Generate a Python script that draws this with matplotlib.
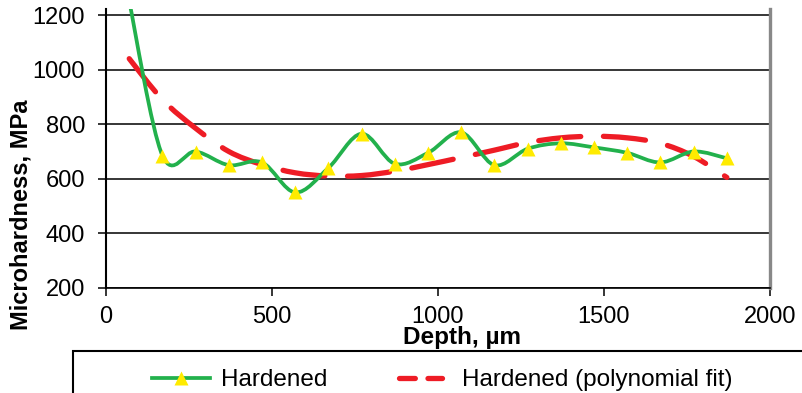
import numpy as np
import matplotlib
matplotlib.use('Agg')
import matplotlib.pyplot as plt
from matplotlib.path import Path
from matplotlib.patches import PathPatch, Rectangle
from matplotlib.lines import Line2D

plt.rcParams['font.family'] = 'Liberation Sans'

# measured microhardness (first point is above the visible range)
depth = [70, 170, 270, 370, 470, 570, 670, 770, 870, 970, 1070,
         1170, 1270, 1370, 1470, 1570, 1670, 1770, 1870]
hard = [1250, 685, 700, 650, 660, 550, 640, 765, 655, 695, 770,
        650, 710, 730, 715, 695, 660, 700, 675]

# polynomial trend line
fit_depth = [70, 170, 270, 370, 470, 570, 670, 770, 870, 970, 1070,
             1170, 1270, 1370, 1470, 1570, 1670, 1770, 1870]
fit_hard = [1040, 890, 785, 700, 652, 622, 610, 612, 628, 652, 678,
            705, 733, 750, 756, 750, 730, 682, 605]

green = '#22B14C'
yellow = '#FFEB00'
red = '#EE1C25'


def smooth_path(xs, ys):
    # Excel-like smoothed line (Catmull-Rom as cubic Bezier segments)
    pts = np.column_stack([xs, ys]).astype(float)
    n = len(pts)
    verts = [pts[0]]
    codes = [Path.MOVETO]
    for i in range(n - 1):
        p0 = pts[max(i - 1, 0)]
        p1 = pts[i]
        p2 = pts[i + 1]
        p3 = pts[min(i + 2, n - 1)]
        verts += [p1 + (p2 - p0) / 6, p2 - (p3 - p1) / 6, p2]
        codes += [Path.CURVE4] * 3
    return Path(verts, codes)


fig = plt.figure(figsize=(8.03, 3.93), dpi=100)
ax = fig.add_axes([106 / 803, 105 / 393, 664 / 803, 279 / 393])

ax.set_xlim(0, 2000)
ax.set_ylim(200, 1222)
ax.set_xticks([0, 500, 1000, 1500, 2000])
ax.set_yticks([200, 400, 600, 800, 1000, 1200])
ax.grid(axis='y', color='black', lw=1.1)
ax.set_axisbelow(True)

ax.add_patch(PathPatch(smooth_path(fit_depth, fit_hard), fc='none', ec=red,
                       lw=3.8, linestyle=(0, (8, 4.3)), capstyle='round', zorder=3))
ax.add_patch(PathPatch(smooth_path(depth, hard), fc='none', ec=green,
                       lw=2.7, zorder=4))
ax.plot(depth, hard, ls='none', marker='^', ms=9.5, mfc=yellow, mec='none', zorder=5)

ax.spines['top'].set_visible(False)
ax.spines['left'].set_linewidth(1.5)
ax.spines['bottom'].set_linewidth(1.2)
ax.spines['right'].set_color('#888888')
ax.spines['right'].set_linewidth(2.4)
ax.tick_params(direction='out', length=6, width=1.1, labelsize=17)
ax.tick_params(axis='x', pad=7)
ax.tick_params(axis='y', pad=9)

ax.set_ylabel('Microhardness, MPa', fontsize=17, fontweight='bold', va='center')
ax.yaxis.set_label_coords((21.5 - 106) / 664, (288 - 215) / 279)
ax.set_xlabel('Depth, \u00b5m', fontsize=17.5, fontweight='bold')
ax.xaxis.set_label_coords((462 - 106) / 664, (288 - 326) / 279)

# legend box running off the bottom/right edge
fig.add_artist(Rectangle((73 / 803, -0.1), 1.0, (393 - 351) / 393 + 0.1,
                         transform=fig.transFigure, fill=False, lw=1.5, ec='black'))
h1 = Line2D([], [], color=green, lw=2.7, marker='^', ms=9.5, mfc=yellow, mec='none')
h2 = Line2D([], [], color=red, lw=3.8, dashes=(3, 2.4), dash_capstyle='round')
fig.legend([h1], ['Hardened'], loc='center left', bbox_to_anchor=(152 / 803, 13 / 393),
           frameon=False, borderpad=0, borderaxespad=0, handlelength=2.4,
           handletextpad=0.45, fontsize=17.5, numpoints=1)
fig.legend([h2], ['Hardened (polynomial fit)'], loc='center left',
           bbox_to_anchor=(399 / 803, 13 / 393), frameon=False, borderpad=0,
           borderaxespad=0, handlelength=1.75, handletextpad=0.85, fontsize=17.5)

fig.savefig('out.png', dpi=100)
